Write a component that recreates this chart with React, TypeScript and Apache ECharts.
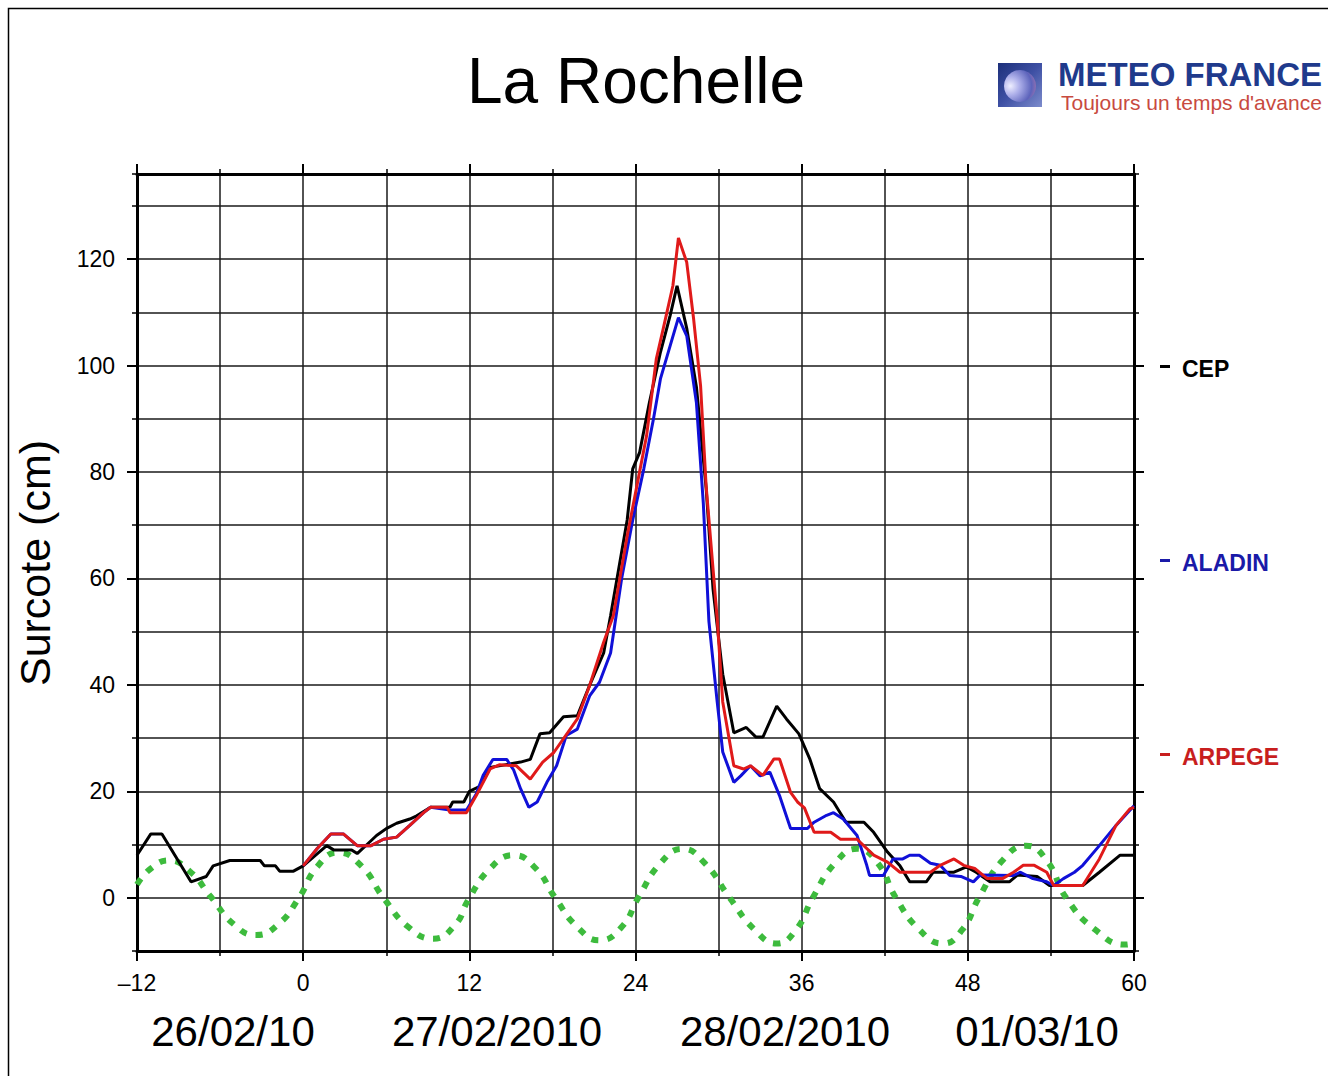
import React, { useEffect, useRef } from 'react';
import * as echarts from 'echarts';

// ---- Data (hours relative to 27/02/2010 00h, surcote in cm) ----
const CEP: [number, number][] = [
  [-12, 8], [-11, 12], [-10.2, 12], [-8.1, 3], [-7, 4], [-6.5, 6], [-5.3, 7], [-3.1, 7], [-2.8, 6], [-2, 6],
  [-1.7, 5], [-0.7, 5], [0, 6], [1.7, 9.8], [2.2, 9], [3.5, 9], [3.9, 8.3], [4.4, 9.5], [5.3, 11.7], [6, 13],
  [6.75, 14], [7.7, 14.8], [8.2, 15.4], [9.2, 17], [10.6, 17], [10.8, 18], [11.6, 18], [12, 20], [12.8, 21],
  [13.5, 24.5], [15.7, 25.5], [16.4, 26], [17.1, 30.8], [17.8, 31], [18.8, 34], [19.8, 34.2], [20.7, 40],
  [21.7, 46], [22.2, 53], [23.4, 71], [23.8, 80.6], [24.3, 83.7], [25, 93], [25.8, 102.5], [26.5, 109.4],
  [27, 115], [27.7, 107], [28.4, 96], [29.1, 77], [29.6, 58], [30.3, 42], [31.1, 31], [32, 32], [32.7, 30.2],
  [33.2, 30.2], [34.2, 36], [34.9, 33.6], [35.8, 30.8], [36.6, 26], [37.3, 20.5], [38.3, 18], [39.2, 14.2],
  [40.5, 14.2], [41.2, 12.3], [42.2, 8.6], [43.1, 6], [43.8, 3], [45, 3], [45.5, 4.8], [47, 4.8], [47.9, 5.8],
  [48.6, 4.8], [49.6, 3], [51, 3], [51.6, 4.3], [53, 4], [53.9, 2.3], [56.3, 2.3], [57.5, 4.8], [59, 8], [60, 8],
];

const ALADIN: [number, number][] = [
  [0, 6], [1, 9.2], [2, 12], [2.9, 12], [3.9, 9.8], [4.9, 9.8], [5.8, 11], [6.75, 11.4], [7.7, 13.6], [8.7, 16],
  [9.2, 17], [10.6, 16.5], [11.8, 16.5], [12.5, 19.5], [13, 23], [13.7, 26], [14.7, 26], [15.2, 24], [15.7, 20.5],
  [16.3, 17], [16.9, 18], [17.6, 21.7], [18.3, 24.8], [19, 30.5], [19.8, 31.7], [20.7, 38], [21.4, 40.5],
  [22.2, 46], [23, 60], [23.8, 71], [24.6, 80.6], [25.3, 90], [25.8, 97.5], [26.5, 103.7], [27.1, 109],
  [27.7, 105.6], [28.4, 93], [28.9, 74], [29.3, 52], [29.9, 36.8], [30.3, 27.4], [31.1, 21.7], [31.6, 22.9],
  [32.3, 24.8], [33, 22.9], [33.7, 23.6], [34.4, 19.2], [35.2, 13], [36.4, 13], [36.9, 14.2], [37.8, 15.5],
  [38.3, 16], [39, 14.8], [40, 11.7], [40.7, 6.1], [40.9, 4.2], [41.9, 4.2], [42.6, 7.3], [43.3, 7.3], [43.8, 8],
  [44.5, 8], [45.3, 6.5], [46, 6.1], [46.7, 4.2], [47.5, 4], [48.4, 3], [48.9, 4.3], [51.3, 4.2], [51.8, 4.8],
  [52.7, 3.6], [53.7, 3], [54.2, 2.3], [54.9, 3.6], [55.7, 4.8], [56.3, 6.1], [57.5, 9.8], [58.7, 13.6], [60, 17.3],
];

const ARPEGE: [number, number][] = [
  [0, 6], [1, 9.2], [2, 12], [2.9, 12], [3.9, 9.8], [4.9, 9.8], [5.8, 11], [6.75, 11.4], [7.7, 13.6], [8.7, 16],
  [9.2, 17], [10.4, 17], [10.6, 16], [11.8, 16], [12.5, 19.2], [13.5, 24.2], [14.2, 25], [15.4, 24.8], [16.4, 22.3],
  [17.3, 25.5], [18.1, 27.3], [19.8, 33.6], [20.7, 40], [21.7, 48], [22.4, 53], [23.4, 68], [24.1, 77.4],
  [24.8, 86.8], [25.5, 101.2], [26, 106.9], [26.7, 115], [27.1, 124], [27.7, 119.4], [28.2, 108.7], [28.7, 96.2],
  [29.1, 77.4], [29.9, 52.4], [30.3, 36.8], [31.1, 24.8], [31.8, 24.2], [32.3, 24.8], [33.2, 23], [34, 26.1],
  [34.4, 26.1], [35.2, 19.8], [35.7, 18], [36.2, 16.9], [36.9, 12.3], [38.1, 12.3], [38.8, 11], [40, 11],
  [41.2, 8], [42.2, 6.7], [43.1, 4.8], [45.3, 4.8], [46, 6.1], [47, 7.3], [47.7, 6.1], [48.5, 5.5], [49.4, 3.6],
  [50.5, 3.6], [51.3, 4.8], [52, 6.1], [52.8, 6.1], [53.7, 4.8], [54.2, 2.3], [56.3, 2.3], [57.5, 7.3],
  [58.7, 13.6], [59.7, 16.7], [60, 17],
];

const TIDE: [number, number][] = [
  [-12, 2.5], [-11, 5.5], [-9.7, 7], [-8.2, 5], [-6.7, 0.3], [-5, -5], [-3.4, -7], [-1.8, -5], [-0.3, 0],
  [1, 5.8], [2.5, 8.5], [4.2, 6], [5.8, 0], [7.6, -5.5], [9.4, -7.7], [11, -5], [11.9, -0.5], [13.5, 5.5],
  [15.2, 8], [16.8, 5.5], [18.2, 0], [19.8, -5.5], [21.4, -8], [23, -5.5], [24.2, 0], [25.8, 6.5], [27.4, 9.2],
  [29, 6.5], [30.8, 0], [32.6, -6], [34.2, -8.6], [35.6, -6], [36.8, 0], [38.4, 6.5], [40, 9.2], [41.5, 6.5],
  [42.8, 0], [44.5, -6], [46.2, -8.6], [47.6, -6], [48.8, 0], [50.5, 7], [52.2, 9.8], [53.7, 7], [55.1, 0],
  [57.2, -6], [59.4, -8.8], [60, -8.5],
];

const Y_LABELS = [0, 20, 40, 60, 80, 100, 120];
const DATE_LABELS = ['26/02/10', '27/02/2010', '28/02/2010', '01/03/10'];
const LEGEND = ['CEP', 'ALADIN', 'ARPEGE'];
const TITLE = 'La Rochelle';
const Y_NAME = 'Surcote (cm)';

const FONT = "'Liberation Sans', Arial, Helvetica, sans-serif";
const COLORS = { CEP: '#000000', ALADIN: '#1010d8', ARPEGE: '#e01a1a', TIDE: '#3dbb3d' };
const TEXT_COLORS = ['#000000', '#1a1aa8', '#c81e1e'];

const gridLine = { show: true, lineStyle: { color: '#1a1a1a', width: 1.5 } };

function buildOption(): any {
  const xBase = {
    type: 'value',
    min: -12,
    max: 60,
    interval: 12,
    axisLine: { show: true, onZero: false, lineStyle: { color: '#000', width: 3 } },
    axisTick: { show: true, length: 10, lineStyle: { color: '#000', width: 2 } },
    minorTick: { show: true, splitNumber: 2, length: 5, lineStyle: { color: '#000', width: 1.5 } },
  };
  const yBase = {
    type: 'value',
    min: -10,
    max: 136,
    interval: 10,
  };
  const dateX = [233, 497, 785, 1037];
  const legendY = [369, 563, 757];

  const graphic: any[] = [
    {
      type: 'rect',
      shape: { x: 8.5, y: 8.5, width: 1400, height: 1200 },
      style: { fill: 'none', stroke: '#000', lineWidth: 1.5 },
      silent: true,
    },
    {
      type: 'text',
      x: 636,
      y: 81,
      style: { text: TITLE, font: `64px ${FONT}`, fill: '#000', align: 'center', verticalAlign: 'middle' },
    },
    {
      type: 'text',
      x: 35,
      y: 563,
      rotation: Math.PI / 2,
      style: { text: Y_NAME, font: `43px ${FONT}`, fill: '#000', align: 'center', verticalAlign: 'middle' },
    },
    // logo
    {
      type: 'rect',
      shape: { x: 998, y: 63, width: 44, height: 44 },
      style: {
        fill: new echarts.graphic.LinearGradient(0, 0, 1, 1, [
          { offset: 0, color: '#1c2f7a' },
          { offset: 0.5, color: '#3e50a4' },
          { offset: 1, color: '#7d8ccc' },
        ]),
      },
    },
    {
      type: 'circle',
      shape: { cx: 1020, cy: 86, r: 16 },
      style: {
        fill: new echarts.graphic.RadialGradient(0.2, 0.5, 0.95, [
          { offset: 0, color: '#eeeeff' },
          { offset: 0.3, color: '#aeb0ea' },
          { offset: 0.7, color: '#5c63bb' },
          { offset: 1, color: '#c07aa8' },
        ]),
      },
    },
    {
      type: 'text',
      x: 1058,
      y: 74.5,
      style: {
        text: 'METEO FRANCE',
        font: `bold 33px ${FONT}`,
        lineHeight: 32,
        fill: '#1f3a8c',
        align: 'left',
        verticalAlign: 'middle',
      },
    },
    {
      type: 'text',
      x: 1061,
      y: 102,
      style: {
        text: "Toujours un temps d'avance",
        font: `21px ${FONT}`,
        lineHeight: 20,
        fill: '#c84a40',
        align: 'left',
        verticalAlign: 'middle',
      },
    },
  ];

  DATE_LABELS.forEach((t, i) => {
    graphic.push({
      type: 'text',
      x: dateX[i],
      y: 1031,
      style: { text: t, font: `42px ${FONT}`, fill: '#000', align: 'center', verticalAlign: 'middle' },
    });
  });

  LEGEND.forEach((t, i) => {
    graphic.push({
      type: 'rect',
      shape: { x: 1160, y: legendY[i] - 4, width: 10, height: 3 },
      style: { fill: TEXT_COLORS[i] },
    });
    graphic.push({
      type: 'text',
      x: 1182,
      y: legendY[i],
      style: { text: t, font: `bold 23px ${FONT}`, fill: TEXT_COLORS[i], align: 'left', verticalAlign: 'middle' },
    });
  });

  return {
    animation: false,
    backgroundColor: '#ffffff',
    grid: { left: 137, right: 194, top: 174, bottom: 125, containLabel: false },
    xAxis: [
      {
        ...xBase,
        position: 'bottom',
        splitLine: gridLine,
        minorSplitLine: gridLine,
        axisLabel: {
          show: true,
          margin: 20,
          color: '#000',
          fontFamily: FONT,
          fontSize: 23,
          formatter: (v: number) => (v < 0 ? '\u2013' + Math.abs(v) : String(v)),
        },
      },
      {
        ...xBase,
        position: 'top',
        splitLine: { show: false },
        minorSplitLine: { show: false },
        axisLabel: { show: false },
      },
    ],
    yAxis: [
      {
        ...yBase,
        position: 'left',
        axisLine: { show: true, onZero: false, lineStyle: { color: '#000', width: 3 } },
        axisTick: { show: true, length: 5, lineStyle: { color: '#000', width: 1.5 } },
        splitLine: gridLine,
        axisLabel: {
          show: true,
          margin: 22,
          color: '#000',
          fontFamily: FONT,
          fontSize: 23,
          formatter: (v: number) => (Y_LABELS.indexOf(v) >= 0 ? String(v) : ''),
        },
      },
      {
        ...yBase,
        position: 'left',
        axisLine: { show: false, onZero: false },
        axisTick: { show: true, length: 10, customValues: Y_LABELS, lineStyle: { color: '#000', width: 2 } },
        splitLine: { show: false },
        axisLabel: { show: false },
      },
      {
        ...yBase,
        position: 'right',
        axisLine: { show: true, onZero: false, lineStyle: { color: '#000', width: 3 } },
        axisTick: { show: true, length: 5, lineStyle: { color: '#000', width: 1.5 } },
        splitLine: { show: false },
        axisLabel: { show: false },
      },
      {
        ...yBase,
        position: 'right',
        axisLine: { show: false, onZero: false },
        axisTick: { show: true, length: 10, customValues: Y_LABELS, lineStyle: { color: '#000', width: 2 } },
        splitLine: { show: false },
        axisLabel: { show: false },
      },
    ],
    series: [
      {
        name: 'Marée',
        type: 'line',
        data: TIDE,
        smooth: true,
        symbol: 'none',
        lineStyle: { color: COLORS.TIDE, width: 6, type: [7, 9], cap: 'butt' },
        z: 2,
      },
      {
        name: 'CEP',
        type: 'line',
        data: CEP,
        symbol: 'none',
        lineStyle: { color: COLORS.CEP, width: 3 },
        z: 3,
      },
      {
        name: 'ALADIN',
        type: 'line',
        data: ALADIN,
        symbol: 'none',
        lineStyle: { color: COLORS.ALADIN, width: 3 },
        z: 4,
      },
      {
        name: 'ARPEGE',
        type: 'line',
        data: ARPEGE,
        symbol: 'none',
        lineStyle: { color: COLORS.ARPEGE, width: 3 },
        z: 5,
      },
    ],
    graphic,
  };
}

export default function App() {
  const ref = useRef<HTMLDivElement>(null);
  useEffect(() => {
    if (!ref.current) return;
    const chart = echarts.init(ref.current, null, { renderer: 'svg' });
    chart.setOption(buildOption());
    return () => chart.dispose();
  }, []);
  return (
    <div
      ref={ref}
      style={{ position: 'fixed', left: 0, top: 0, width: 1328, height: 1076, background: '#ffffff' }}
    />
  );
}
